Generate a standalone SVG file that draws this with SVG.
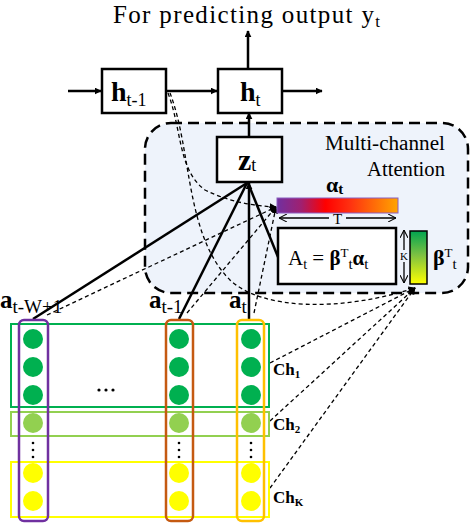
<svg xmlns="http://www.w3.org/2000/svg" width="472" height="524" viewBox="0 0 472 524">
<style>
text{font-family:"Liberation Serif","Times New Roman",serif;fill:#000}
.b{font-weight:bold}
.box{fill:#fff;stroke:#000;stroke-width:2.5}
.solid{fill:none;stroke:#000;stroke-width:2.5}
.dash{fill:none;stroke:#000;stroke-width:1.3;stroke-dasharray:4 3}
.dim{fill:none;stroke:#000;stroke-width:1.3}
</style>
<defs>
<marker id="ahs" viewBox="0 0 10 10" refX="9" refY="5" markerWidth="7" markerHeight="7" orient="auto" markerUnits="userSpaceOnUse"><path d="M0,0 L10,5 L0,10 z" fill="#000"/></marker>
<marker id="open" viewBox="0 0 10 10" refX="10" refY="5" markerWidth="8" markerHeight="8" orient="auto-start-reverse" markerUnits="userSpaceOnUse"><path d="M0,0 L10,5 L0,10" fill="none" stroke="#000" stroke-width="1.3"/></marker>
<linearGradient id="ga" x1="0" y1="0" x2="1" y2="0">
<stop offset="0" stop-color="#7030a0"/><stop offset="0.2" stop-color="#a02070"/><stop offset="0.4" stop-color="#ff0000"/><stop offset="0.6" stop-color="#ff3010"/><stop offset="1" stop-color="#ffa500"/>
</linearGradient>
<linearGradient id="gb" x1="0" y1="0" x2="0" y2="1">
<stop offset="0" stop-color="#00a550"/><stop offset="0.45" stop-color="#7cc142"/><stop offset="1" stop-color="#ffff00"/>
</linearGradient>
</defs>

<g id="title"><text x="113" y="23" font-size="25" textLength="267" lengthAdjust="spacing">For predicting output y<tspan font-size="17" dy="4">t</tspan></text></g>

<g id="attention-region">
<rect x="145" y="123" width="323" height="170" rx="26" fill="#eef3fb" stroke="#000" stroke-width="2.5" stroke-dasharray="11 6"/>
<text x="325" y="150" font-size="20" textLength="120" lengthAdjust="spacingAndGlyphs">Multi-channel</text>
<text x="367" y="176" font-size="20" textLength="78" lengthAdjust="spacingAndGlyphs">Attention</text>
</g>

<g id="connectors">
<line class="solid" x1="68" y1="91" x2="101" y2="91" marker-end="url(#ahs)"/>
<line class="solid" x1="166" y1="91" x2="217" y2="91" marker-end="url(#ahs)"/>
<line class="solid" x1="282" y1="91" x2="322" y2="91" marker-end="url(#ahs)"/>
<line class="solid" x1="248" y1="69" x2="248" y2="31" marker-end="url(#ahs)"/>
<line class="solid" x1="249" y1="137" x2="249" y2="113" marker-end="url(#ahs)"/>
<line class="solid" x1="33" y1="319" x2="247" y2="183"/>
<line class="solid" x1="179" y1="319" x2="247" y2="183"/>
<line class="solid" x1="278" y1="257" x2="248" y2="183"/>
<line class="solid" x1="249" y1="320" x2="249" y2="183" marker-end="url(#ahs)"/>

<line class="dash" x1="47" y1="315" x2="276" y2="207" marker-end="url(#ahs)"/>
<line class="dash" x1="187" y1="313" x2="276" y2="207" marker-end="url(#ahs)"/>
<line class="dash" x1="254" y1="313" x2="276" y2="207" marker-end="url(#ahs)"/>
<path class="dash" d="M168,93 C182,130 178,170 205,190 Q235,205 276,207" marker-end="url(#ahs)"/>
<path class="dash" d="M170,93 C192,150 185,235 230,280 C262,310 340,312 415,288" marker-end="url(#ahs)"/>
<line class="dash" x1="270" y1="363" x2="415" y2="288" marker-end="url(#ahs)"/>
<line class="dash" x1="270" y1="421" x2="415" y2="288" marker-end="url(#ahs)"/>
<line class="dash" x1="270" y1="488" x2="415" y2="288" marker-end="url(#ahs)"/>
</g>

<g id="h_prev"><rect class="box" x="102" y="69" width="64" height="44"/>
<text x="111" y="101" font-size="28" class="b">h<tspan font-size="18" font-weight="normal" dy="5">t-1</tspan></text></g>

<g id="h_t"><rect class="box" x="218" y="69" width="64" height="44"/>
<text x="240" y="101" font-size="28" class="b">h<tspan font-size="18" font-weight="normal" dy="5">t</tspan></text></g>

<g id="z_t"><rect class="box" x="217" y="137" width="65" height="45"/>
<text x="238" y="170" font-size="30" class="b">z<tspan font-size="18" font-weight="normal" dy="1">t</tspan></text></g>

<g id="alpha">
<text x="326" y="192" font-size="22" class="b">α<tspan font-size="15" dy="2">t</tspan></text>
<rect x="277" y="198" width="121" height="15" fill="url(#ga)" stroke="#8a5cc0" stroke-width="1"/>
<line class="dim" x1="279" y1="218" x2="329" y2="218" marker-start="url(#open)"/>
<line class="dim" x1="346" y1="218" x2="396" y2="218" marker-end="url(#open)"/>
<text x="337.5" y="224" font-size="15" text-anchor="middle">T</text>
</g>

<g id="A_t"><rect class="box" x="278" y="228" width="118" height="56"/>
<text x="288" y="265" font-size="21">A<tspan font-size="14" dy="4">t</tspan><tspan dy="-4"> = </tspan><tspan class="b">β</tspan><tspan font-size="13" dy="-8">T</tspan><tspan font-size="15" dy="12">t</tspan><tspan class="b" dy="-4">α</tspan><tspan font-size="15" dy="4">t</tspan></text>
</g>

<g id="beta">
<line class="dim" x1="404" y1="230" x2="404" y2="250" marker-start="url(#open)"/>
<line class="dim" x1="404" y1="262" x2="404" y2="283" marker-end="url(#open)"/>
<text x="404" y="260" font-size="11" text-anchor="middle">K</text>
<rect x="410" y="231" width="17" height="53" fill="url(#gb)" stroke="#000" stroke-width="1.5"/>
<text x="433" y="265" font-size="22" class="b">β<tspan font-size="13" font-weight="normal" dy="-8">T</tspan><tspan font-size="15" font-weight="normal" dy="12">t</tspan></text>
</g>

<g id="channels">
<rect x="11" y="324" width="258" height="83" fill="none" stroke="#00b050" stroke-width="2"/>
<rect x="11" y="412" width="258" height="24" fill="none" stroke="#92d050" stroke-width="2"/>
<rect x="11" y="462" width="258" height="55" fill="none" stroke="#ffff00" stroke-width="2"/>
<text x="273" y="375" font-size="17" class="b">Ch<tspan font-size="11" dy="3">1</tspan></text>
<text x="273" y="430" font-size="17" class="b">Ch<tspan font-size="11" dy="3">2</tspan></text>
<text x="273" y="503" font-size="17" class="b">Ch<tspan font-size="11" dy="3">K</tspan></text>
</g>

<g id="col_tW1">
<rect x="19" y="320" width="29" height="201" rx="5" fill="none" stroke="#7030a0" stroke-width="2.5"/>
<circle cx="33" cy="339" r="10" fill="#00b050"/><circle cx="33" cy="367" r="10" fill="#00b050"/><circle cx="33" cy="395" r="10" fill="#00b050"/>
<circle cx="33" cy="423" r="10" fill="#92d050"/><circle cx="33" cy="473" r="10" fill="#ffff00"/><circle cx="33" cy="501" r="10" fill="#ffff00"/>
<circle cx="33" cy="443" r="1.3"/><circle cx="33" cy="450" r="1.3"/><circle cx="33" cy="457" r="1.3"/>
<text x="0" y="308" font-size="25" class="b">a<tspan font-size="19" font-weight="normal" dy="5">t-W+1</tspan></text>
</g>

<g id="col_t1">
<rect x="166" y="320" width="27" height="201" rx="5" fill="none" stroke="#c55a11" stroke-width="2.5"/>
<circle cx="179" cy="339" r="10" fill="#00b050"/><circle cx="179" cy="367" r="10" fill="#00b050"/><circle cx="179" cy="395" r="10" fill="#00b050"/>
<circle cx="179" cy="423" r="10" fill="#92d050"/><circle cx="179" cy="473" r="10" fill="#ffff00"/><circle cx="179" cy="501" r="10" fill="#ffff00"/>
<circle cx="179" cy="443" r="1.3"/><circle cx="179" cy="450" r="1.3"/><circle cx="179" cy="457" r="1.3"/>
<text x="149" y="308" font-size="25" class="b">a<tspan font-size="19" font-weight="normal" dy="5">t-1</tspan></text>
</g>

<g id="col_t">
<rect x="237" y="320" width="27" height="201" rx="5" fill="none" stroke="#ffc000" stroke-width="2.5"/>
<circle cx="251" cy="339" r="10" fill="#00b050"/><circle cx="251" cy="367" r="10" fill="#00b050"/><circle cx="251" cy="395" r="10" fill="#00b050"/>
<circle cx="251" cy="423" r="10" fill="#92d050"/><circle cx="251" cy="473" r="10" fill="#ffff00"/><circle cx="251" cy="501" r="10" fill="#ffff00"/>
<circle cx="251" cy="443" r="1.3"/><circle cx="251" cy="450" r="1.3"/><circle cx="251" cy="457" r="1.3"/>
<text x="229" y="308" font-size="25" class="b">a<tspan font-size="19" font-weight="normal" dy="5">t</tspan></text>
</g>

<g id="ellipsis"><circle cx="99" cy="390" r="1.6"/><circle cx="106" cy="390" r="1.6"/><circle cx="113" cy="390" r="1.6"/></g>
</svg>
